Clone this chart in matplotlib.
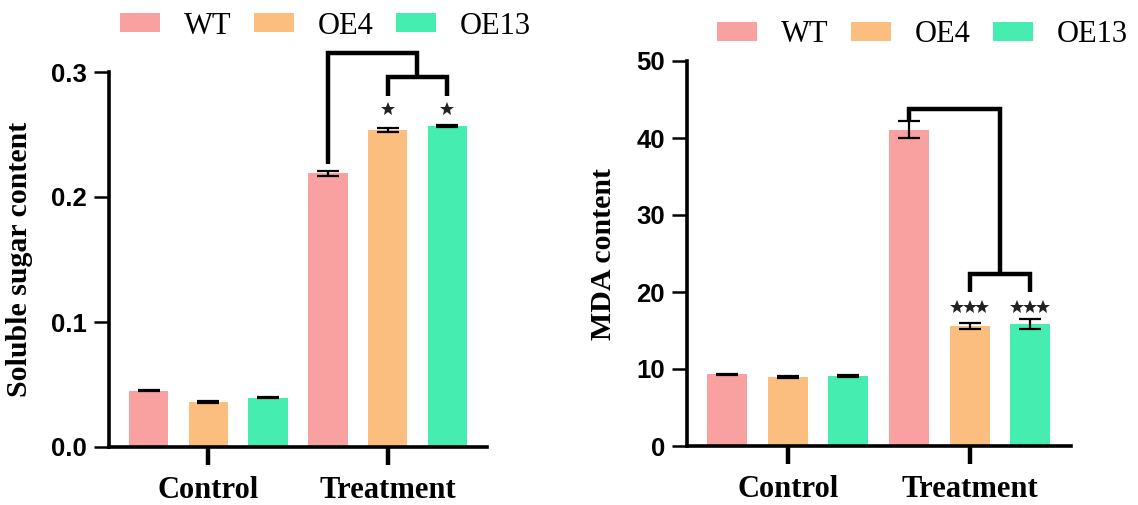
import matplotlib
matplotlib.use("Agg")
import matplotlib.pyplot as plt
import numpy as np
from matplotlib.patches import Patch

# ---- data ----
groups = ["Control", "Treatment"]
lines = ["WT", "OE4", "OE13"]
colors = ["#F9A0A0", "#FBBE7E", "#45EDB0"]

sugar_mean = [0.045, 0.036, 0.0396, 0.219, 0.254, 0.257]
sugar_err = [0.0005, 0.0005, 0.0005, 0.0021, 0.0016, 0.001]
sugar_ticks = [0.0, 0.1, 0.2, 0.3]
sugar_tick_labels = ["0.0", "0.1", "0.2", "0.3"]
sugar_stars = [0, 0, 0, 0, 1, 1]          # number of significance stars
# bracket levels: outer top, WT leg bottom, inner level, inner leg bottom, star y
sugar_bracket = [0.3155, 0.2267, 0.296, 0.2805, 0.2704]

mda_mean = [9.3, 8.95, 9.08, 41.1, 15.6, 15.8]
mda_err = [0.1, 0.1, 0.12, 1.1, 0.35, 0.65]
mda_ticks = [0, 10, 20, 30, 40, 50]
mda_tick_labels = ["0", "10", "20", "30", "40", "50"]
mda_stars = [0, 0, 0, 0, 3, 3]
mda_bracket = [43.8, 42.3, 22.4, 20.0, 18.0]

SERIF = ["Liberation Serif", "DejaVu Serif"]
SANS = ["Liberation Sans", "DejaVu Sans"]

fig = plt.figure(figsize=(11.38, 5.05), dpi=100)

ax1 = fig.add_axes([109 / 1138, 1 - 447 / 505, 378 / 1138, 375 / 505])
ax2 = fig.add_axes([687 / 1138, 1 - 446 / 505, 383.5 / 1138, 385 / 505])


def draw(ax, means, errs, ticks, ticklabels, ylim, ylabel, stars, br, labx):
    x = np.arange(len(means))
    bar_colors = [colors[i % 3] for i in range(len(means))]
    ax.bar(x, means, width=0.66, color=bar_colors, yerr=errs, capsize=8,
           error_kw=dict(elinewidth=1.6, capthick=1.6, ecolor="black"), zorder=2)
    ax.set_xlim(-0.665, len(means) - 1 + 0.665)
    ax.set_ylim(*ylim)
    for s in ["top", "right"]:
        ax.spines[s].set_visible(False)
    for s in ["left", "bottom"]:
        ax.spines[s].set_linewidth(2.6)
    ax.set_yticks(ticks)
    ax.set_yticklabels(ticklabels, fontfamily=SANS, fontweight="bold", fontsize=18.5)
    ax.set_xticks([1, 4])
    ax.set_xticklabels(groups, fontfamily=SERIF, fontweight="bold", fontsize=22)
    ax.tick_params(axis="y", length=11, width=1.8, pad=5)
    ax.tick_params(axis="x", length=13, width=3.2, pad=8)
    ax.set_ylabel(ylabel, fontfamily=SERIF, fontweight="bold", fontsize=21.5)
    ax.yaxis.set_label_coords(labx, 0.5)

    # significance brackets
    top, wt_bottom, inner, inner_bottom, star_y = br
    xwt, xa, xb = x[3], x[4], x[5]
    xm = (xa + xb) / 2
    kw = dict(color="black", lw=3.2, clip_on=False, solid_joinstyle="miter",
              solid_capstyle="butt", zorder=3)
    ax.plot([xwt, xwt, xm, xm], [wt_bottom, top, top, inner], **kw)
    ax.plot([xa, xa, xb, xb], [inner_bottom, inner, inner, inner_bottom], **kw)
    for xi, n in zip(x, stars):
        if n:
            offs = (np.arange(n) - (n - 1) / 2) * 0.21
            ax.plot(xi + offs, [star_y] * n, linestyle="none", marker="*",
                    markersize=10.5, color="#222222", markeredgewidth=0, zorder=4)


draw(ax1, sugar_mean, sugar_err, sugar_ticks, sugar_tick_labels, (0, 0.3),
     "Soluble sugar content", sugar_stars, sugar_bracket, -0.200)
draw(ax2, mda_mean, mda_err, mda_ticks, mda_tick_labels, (0, 50),
     "MDA content", mda_stars, mda_bracket, -0.183)

handles = [Patch(facecolor=c, edgecolor="none") for c in colors]
for anchor in [(120 / 1138, 1 - 26 / 505), (717 / 1138, 1 - 34.5 / 505)]:
    fig.legend(handles, lines, loc="center left", bbox_to_anchor=anchor, ncol=3,
               frameon=False, borderpad=0, borderaxespad=0,
               handlelength=1.3, handleheight=0.6, handletextpad=0.8,
               columnspacing=0.72, prop=dict(family=SERIF, size=22))

fig.savefig("out.png", dpi=100)
